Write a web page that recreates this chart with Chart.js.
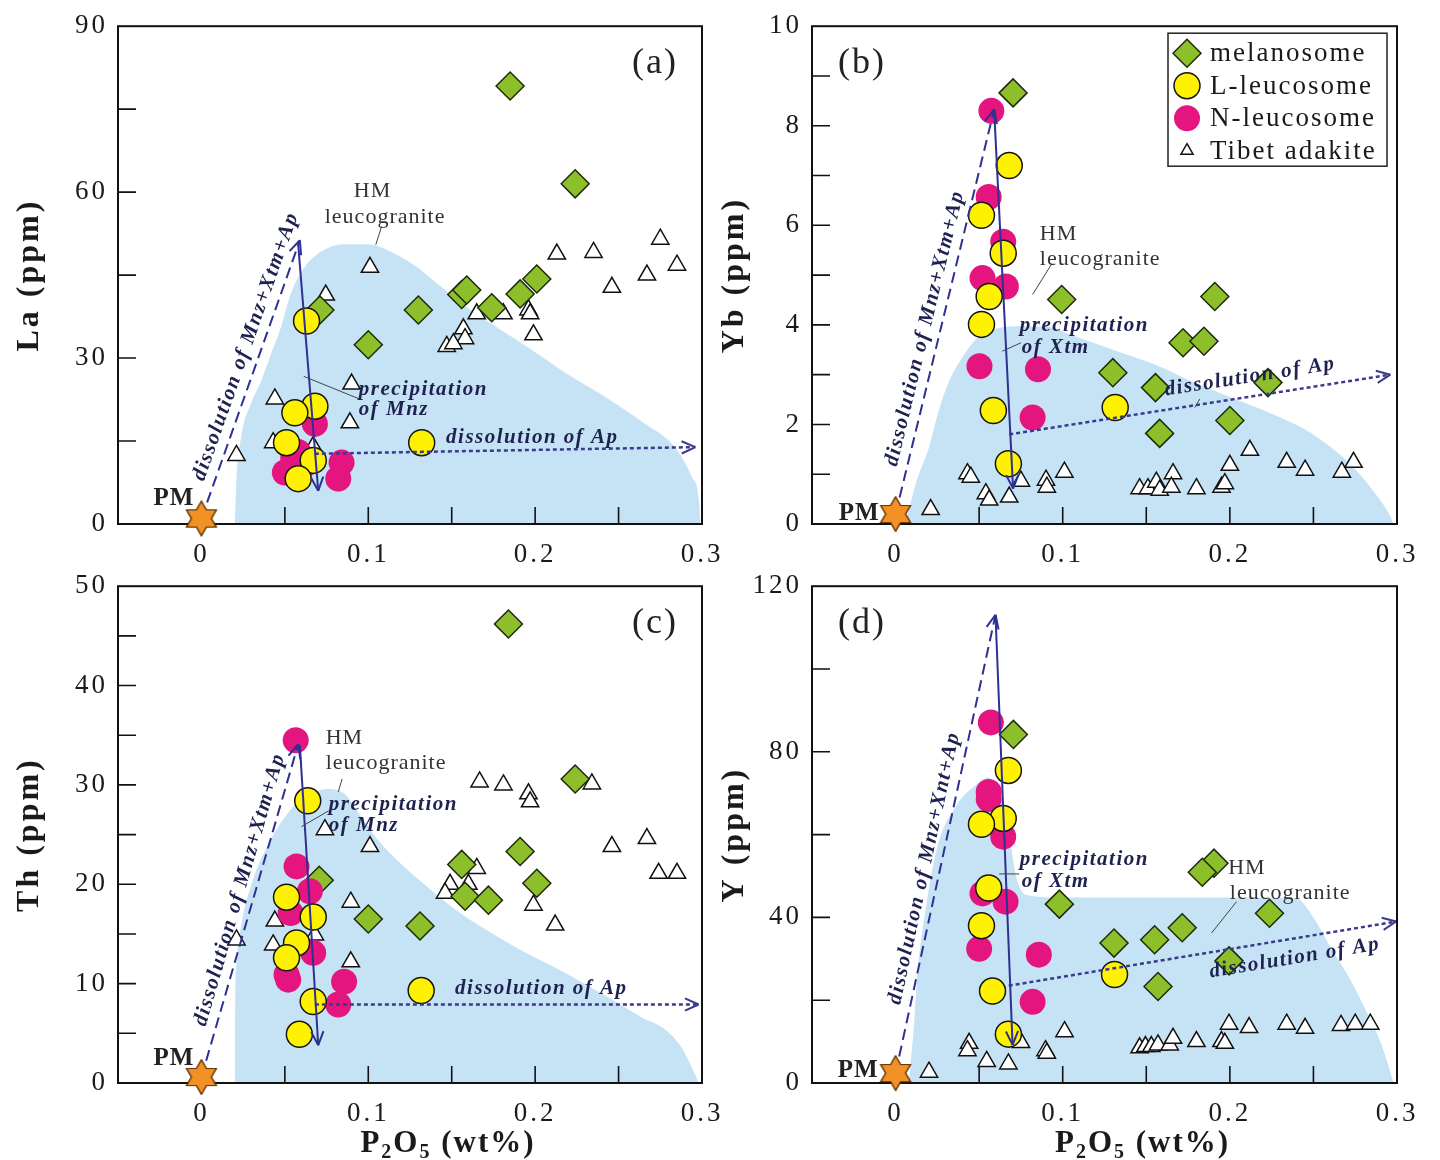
<!DOCTYPE html>
<html>
<head>
<meta charset="utf-8">
<script src="https://cdn.jsdelivr.net/npm/chart.js@4.4.1/dist/chart.umd.min.js"></script>
<style>
  html, body { margin: 0; padding: 0; background: #fff; }
  body { width: 1440px; height: 1160px; position: relative; overflow: hidden; }
  canvas { position: absolute; }
</style>
</head>
<body>
<canvas id="chartA" width="740" height="580" style="left:0;top:0"></canvas>
<canvas id="chartB" width="740" height="580" style="left:700px;top:0"></canvas>
<canvas id="chartC" width="740" height="600" style="left:0;top:560px"></canvas>
<canvas id="chartD" width="740" height="600" style="left:700px;top:560px"></canvas>
<script>
// ---- La vs P2O5 ----
const laMelanosome = [[0.185,79.2],[0.224,61.5],[0.201,44.3],[0.191,41.6],[0.174,39.1],[0.156,41.5],[0.159,42.3],[0.130,38.7],[0.100,32.4],[0.071,38.7]];
const laLLeucosome = [[0.063,36.7],[0.068,21.3],[0.056,20.1],[0.051,14.7],[0.067,11.5],[0.058,8.2],[0.132,14.7]];
const laNLeucosome = [[0.068,18.1],[0.058,13.0],[0.062,10.8],[0.055,12.0],[0.050,9.3],[0.084,11.1],[0.082,8.2]];
const laAdakite = [[0.101,46.4],[0.213,48.8],[0.235,49.1],[0.275,51.5],[0.267,45.0],[0.285,46.8],[0.246,42.8],[0.0745,41.4],
  [0.165,38.0],[0.181,38.0],[0.196,38.7],[0.197,38.0],[0.199,34.2],[0.157,35.3],[0.158,33.5],[0.147,32.1],[0.151,32.6],
  [0.090,25.3],[0.089,18.3],[0.044,22.6],[0.021,12.4],[0.043,14.7],[0.067,14.0]];
const laField = [[0.020,0],[0.021,8],[0.024,16],[0.030,22],[0.036,26],[0.042,31],[0.047,35],[0.054,42],[0.062,46.5],
  [0.072,49.3],[0.085,50.6],[0.100,50.6],[0.115,49],[0.130,46.3],[0.140,43.8],[0.160,39],[0.180,35],[0.197,31.7],
  [0.220,27],[0.243,22.8],[0.265,18.3],[0.284,13.8],[0.294,8.5],[0.298,4.8],[0.299,0]];
const laPM = [[0, 1]];
const laDissolveAll = [[0, 1], [0.059, 51.3]];
const laPrecip = [[0.058, 50.5], [0.070, 6]];
const laDissolveAp = [[0.068, 12.7], [0.296, 13.9]];

// ---- Yb vs P2O5 ----
const ybMelanosome = [[0.0703,8.66],[0.0994,4.51],[0.191,4.57],[0.172,3.64],[0.1845,3.67],[0.130,3.04],[0.1555,2.74],[0.2228,2.84],[0.200,2.08],[0.158,1.82]];
const ybLLeucosome = [[0.068,7.20],[0.0514,6.20],[0.0644,5.44],[0.056,4.57],[0.0514,4.01],[0.0585,2.28],[0.1314,2.34],[0.0675,1.21]];
const ybNLeucosome = [[0.0573,8.30],[0.0557,6.57],[0.0644,5.67],[0.052,4.94],[0.066,4.77],[0.0502,3.17],[0.0852,3.11],[0.082,2.14]];
const ybAdakite = [[0.021,0.29],[0.043,1.01],[0.045,0.94],[0.054,0.61],[0.056,0.48],[0.068,0.54],[0.075,0.86],[0.090,0.88],
  [0.0905,0.74],[0.101,1.04],[0.146,0.71],[0.151,0.71],[0.156,0.84],[0.158,0.68],[0.166,1.01],[0.165,0.74],[0.180,0.71],
  [0.195,0.74],[0.197,0.81],[0.200,1.18],[0.212,1.48],[0.234,1.24],[0.245,1.08],[0.267,1.04],[0.274,1.24]];
const ybField = [[0.006,0],[0.012,0.8],[0.020,1.54],[0.026,2.3],[0.032,2.87],[0.040,3.35],[0.049,3.74],[0.060,3.92],
  [0.075,3.97],[0.090,3.96],[0.105,3.8],[0.130,3.5],[0.1555,3.2],[0.175,2.9],[0.191,2.67],[0.210,2.42],[0.226,2.2],
  [0.245,1.9],[0.262,1.5],[0.275,1.1],[0.285,0.7],[0.295,0.22],[0.298,0]];
const ybPM = [[0, 0.2]];
const ybDissolveAll = [[0, 0.2], [0.059, 8.33]];
const ybPrecip = [[0.059, 8.3], [0.0703, 0.71]];
const ybDissolveAp = [[0.068, 1.8], [0.296, 3.0]];

// ---- Th vs P2O5 ----
const thMelanosome = [[0.184,46.2],[0.224,30.6],[0.191,23.3],[0.156,22.0],[0.201,20.1],[0.158,18.8],[0.172,18.4],[0.0706,20.4],[0.100,16.5],[0.131,15.8]];
const thLLeucosome = [[0.0637,28.4],[0.051,18.7],[0.067,16.7],[0.057,14.1],[0.051,12.6],[0.067,8.2],[0.0587,4.9],[0.1317,9.3]];
const thNLeucosome = [[0.0565,34.5],[0.057,21.8],[0.065,19.3],[0.0535,17.1],[0.067,13.1],[0.051,10.9],[0.052,10.4],[0.0855,10.2],[0.082,7.9]];
const thAdakite = [[0.1667,30.3],[0.181,30.0],[0.196,29.1],[0.197,28.3],[0.234,30.1],[0.267,24.6],[0.246,23.8],[0.074,25.5],
  [0.101,23.8],[0.274,21.1],[0.285,21.1],[0.165,21.6],[0.149,20.0],[0.146,19.1],[0.160,20.0],[0.199,17.9],[0.212,15.9],
  [0.0895,18.2],[0.044,16.3],[0.021,14.4],[0.043,13.9],[0.068,14.9],[0.0895,12.2]];
const thField = [[0.020,0],[0.0201,6],[0.021,12],[0.024,16],[0.030,20],[0.037,23],[0.045,25.5],[0.055,27.8],[0.065,29],
  [0.075,29.6],[0.085,29.2],[0.095,27],[0.105,24.6],[0.120,22],[0.135,19.8],[0.151,17.6],[0.170,15.5],[0.190,13.5],
  [0.220,10.9],[0.245,8.5],[0.265,6.5],[0.277,5.5],[0.288,3.5],[0.296,0.8],[0.298,0]];
const thPM = [[0, 0.6]];
const thDissolveAll = [[0, 0.6], [0.058, 34.1]];
const thPrecip = [[0.059, 34], [0.070, 3.8]];
const thDissolveAp = [[0.068, 7.9], [0.298, 7.9]];

// ---- Y vs P2O5 ----
const yMelanosome = [[0.0705,84.2],[0.1905,53.1],[0.1835,50.9],[0.098,43.2],[0.2237,41.0],[0.1715,37.5],[0.155,34.6],[0.1307,33.8],[0.1995,29.5],[0.157,23.3]];
const yLLeucosome = [[0.0675,75.5],[0.0644,63.9],[0.0514,62.5],[0.0557,47.1],[0.0514,38.0],[0.058,22.2],[0.131,26.2],[0.0675,11.8]];
const yNLeucosome = [[0.057,87.1],[0.0557,70.3],[0.0557,68.6],[0.0644,59.5],[0.052,45.8],[0.0658,43.8],[0.050,32.4],[0.0857,31.0],[0.082,19.6]];
const yAdakite = [[0.020,2.6],[0.044,9.6],[0.043,7.8],[0.0545,5.2],[0.0675,4.6],[0.075,9.8],[0.0897,7.8],[0.0905,7.2],
  [0.1011,12.4],[0.146,8.5],[0.1495,8.8],[0.153,8.8],[0.157,9.2],[0.164,9.2],[0.166,10.8],[0.180,10.0],[0.195,10.0],
  [0.197,9.6],[0.1995,14.2],[0.2115,13.4],[0.234,14.2],[0.245,13.2],[0.2665,13.9],[0.275,14.2],[0.284,14.2]];
const yField = [[0.008,0],[0.011,14],[0.013,26],[0.018,42],[0.025,57],[0.037,67.4],[0.048,72],[0.055,73.8],[0.062,70],
  [0.068,60],[0.072,50],[0.078,45.5],[0.100,44.8],[0.150,44.8],[0.200,44.8],[0.240,44.5],[0.250,40],[0.260,33],
  [0.272,25],[0.282,17],[0.290,10],[0.295,4],[0.298,0]];
const yPM = [[0, 2.4]];
const yDissolveAll = [[0, 2.4], [0.0598, 113.1]];
const yPrecip = [[0.0598, 113], [0.070, 9.2]];
const yDissolveAp = [[0.0677, 23.5], [0.2995, 39.0]];

// axis ticks
const xTickStep = 0.05;
const laTicks = { max: 90, step: 15, every: 30 };
const ybTicks = { max: 10, step: 1, every: 2 };
const thTicks = { max: 50, step: 5, every: 10 };
const yTicks = { max: 120, step: 20, every: 40 };

const SERIF = '"Liberation Serif", "Times New Roman", serif';
const NAVY = '#2e3192';
const NOTE = '#1f2250';
const FIELD = '#c6e3f5';

function makeStar(r) {
  const c = document.createElement('canvas');
  const s = Math.ceil(2 * r + 4);
  c.width = c.height = s;
  const g = c.getContext('2d');
  g.translate(s / 2, s / 2);
  g.beginPath();
  for (let i = 0; i < 12; i++) {
    const rad = i % 2 === 0 ? r : r / Math.sqrt(3);
    const ang = -Math.PI / 2 + i * Math.PI / 6;
    g.lineTo(rad * Math.cos(ang), rad * Math.sin(ang));
  }
  g.closePath();
  g.fillStyle = '#f39224';
  g.fill();
  g.strokeStyle = '#6a3a0a';
  g.lineWidth = 1.2;
  g.stroke();
  return c;
}
const STAR = makeStar(17);

const pts = arr => arr.map(([x, y]) => ({ x, y }));

function buildDatasets(g) {
  return [
    { label: 'PM', data: pts(g.pm), pointStyle: STAR, pointRadius: 17, clip: false },
    { label: 'dissolution', data: pts(g.dissolveAll), showLine: true, borderColor: NAVY, borderWidth: 2,
      borderDash: [11, 6], pointRadius: 0, arrow: true },
    { label: 'precipitation', data: pts(g.precip), showLine: true, borderColor: NAVY, borderWidth: 2,
      pointRadius: 0, arrow: true },
    { label: 'dissolution of Ap', data: pts(g.dissolveAp), showLine: true, borderColor: '#3b3a8e', borderWidth: 2.5,
      borderDash: [4, 3], pointRadius: 0, arrow: true },
    { label: 'L-leucosome', data: pts(g.lLeuco), pointStyle: 'circle', pointRadius: 13,
      backgroundColor: '#fff200', borderColor: '#151515', borderWidth: 1.5, legendRow: 1 },
    { label: 'N-leucosome', data: pts(g.nLeuco), pointStyle: 'circle', pointRadius: 13,
      backgroundColor: '#e5157f', borderColor: '#e5157f', borderWidth: 0, legendRow: 2 },
    { label: 'melanosome', data: pts(g.melanosome), pointStyle: 'rectRot', pointRadius: 14,
      backgroundColor: '#8dbf2a', borderColor: '#1e2a0c', borderWidth: 1.5, legendRow: 0 },
    { label: 'Tibet adakite', data: pts(g.adakite), pointStyle: 'triangle', pointRadius: 10,
      backgroundColor: '#ffffff', borderColor: '#111', borderWidth: 1.5, legendRow: 3, legendRadius: 7 },
    { label: 'HM leucogranite', data: pts(g.field), showLine: true, borderWidth: 0, pointRadius: 0,
      backgroundColor: FIELD, fill: 'origin', cubicInterpolationMode: 'monotone' }
  ];
}

const panelCfg = {
  chartA: {
    tag: '(a)', tagRight: true,
    texts: [
      { x: 0.0913, y: 59.1, text: 'HM', font: '22px ' + SERIF, color: '#333' },
      { x: 0.0739, y: 54.5, text: 'leucogranite', font: '22px ' + SERIF, color: '#333' },
      { x: 0.0943, y: 23.3, text: 'precipitation', italic: true },
      { x: 0.0943, y: 19.7, text: 'of Mnz', italic: true },
      { x: 0.1466, y: 14.7, text: 'dissolution of Ap', italic: true }
    ],
    leaders: [ [[0.108, 53.8], [0.1045, 50.5]], [[0.0613, 26.7], [0.0947, 22.6]] ],
    slants: [ { line: laDissolveAll, t: 0.6, gap: 5, text: 'dissolution of Mnz+Xtm+Ap' } ],
    pm: { dx: -7, dy: -13 }
  },
  chartB: {
    tag: '(b)', tagRight: false, legend: true,
    texts: [
      { x: 0.0863, y: 5.71, text: 'HM', font: '22px ' + SERIF, color: '#333' },
      { x: 0.0863, y: 5.21, text: 'leucogranite', font: '22px ' + SERIF, color: '#333' },
      { x: 0.0743, y: 3.87, text: 'precipitation', italic: true },
      { x: 0.0755, y: 3.43, text: 'of Xtm', italic: true }
    ],
    leaders: [ [[0.0935, 5.23], [0.082, 4.61]], [[0.0638, 3.47], [0.075, 3.64]], [[0.179, 2.34], [0.182, 2.51]] ],
    slants: [
      { line: ybDissolveAll, t: 0.45, gap: 5, text: 'dissolution of Mnz+Xtm+Ap' },
      { line: ybDissolveAp, t: 0.64, gap: 9, text: 'dissolution of Ap' }
    ],
    pm: { dx: -16, dy: 6 }
  },
  chartC: {
    tag: '(c)', tagRight: true, xTitle: true,
    texts: [
      { x: 0.0745, y: 34.1, text: 'HM', font: '22px ' + SERIF, color: '#333' },
      { x: 0.0745, y: 31.6, text: 'leucogranite', font: '22px ' + SERIF, color: '#333' },
      { x: 0.0763, y: 27.5, text: 'precipitation', italic: true },
      { x: 0.0763, y: 25.4, text: 'of Mnz', italic: true },
      { x: 0.152, y: 9.0, text: 'dissolution of Ap', italic: true }
    ],
    leaders: [ [[0.0843, 30.6], [0.082, 29.3]], [[0.060, 25.8], [0.0763, 27.4]] ],
    slants: [ { line: thDissolveAll, t: 0.55, gap: 5, text: 'dissolution of Mnz+Xtm+Ap' } ],
    pm: { dx: -7, dy: -12 }
  },
  chartD: {
    tag: '(d)', tagRight: false, xTitle: true,
    texts: [
      { x: 0.0743, y: 52.6, text: 'precipitation', italic: true },
      { x: 0.0755, y: 47.3, text: 'of Xtm', italic: true },
      { x: 0.199, y: 50.4, text: 'HM', font: '22px ' + SERIF, color: '#333' },
      { x: 0.200, y: 44.4, text: 'leucogranite', font: '22px ' + SERIF, color: '#333' }
    ],
    leaders: [ [[0.062, 50.5], [0.074, 50.5]], [[0.189, 36.2], [0.204, 43.8]] ],
    slants: [
      { line: yDissolveAll, t: 0.44, gap: 5, text: 'dissolution of Mnz+Xnt+Ap' },
      { line: yDissolveAp, t: 0.73, gap: 9, text: 'dissolution of Ap', below: true }
    ],
    pm: { dx: -17, dy: 4 }
  }
};

function drawXTitle(ctx, cx, baseline) {
  const parts = [['P', 0], ['2', 1], ['O', 0], ['5', 1], [' (wt%)', 0]];
  const big = 'bold 31px ' + SERIF, small = 'bold 20px ' + SERIF;
  ctx.letterSpacing = '2px';
  let w = 0;
  parts.forEach(([s, sub]) => { ctx.font = sub ? small : big; w += ctx.measureText(s).width; });
  let px = cx - w / 2;
  ctx.textAlign = 'left';
  ctx.textBaseline = 'alphabetic';
  ctx.fillStyle = '#1a1a1a';
  parts.forEach(([s, sub]) => {
    ctx.font = sub ? small : big;
    ctx.fillText(s, px, baseline + (sub ? 6 : 0));
    px += ctx.measureText(s).width;
  });
}

const decorPlugin = {
  id: 'panelDecor',
  beforeDraw(chart) {
    chart.ctx.letterSpacing = '3px';
  },
  afterDatasetsDraw(chart) {
    const cfg = panelCfg[chart.canvas.id];
    const { ctx, chartArea: a, scales: { x, y } } = chart;
    const px = v => x.getPixelForValue(v);
    const py = v => y.getPixelForValue(v);

    // arrow heads on the trend lines
    chart.data.datasets.forEach((ds, i) => {
      if (!ds.arrow) return;
      const els = chart.getDatasetMeta(i).data;
      const p = els[els.length - 1], q = els[els.length - 2];
      const ang = Math.atan2(p.y - q.y, p.x - q.x);
      ctx.save();
      ctx.strokeStyle = ds.borderColor;
      ctx.lineWidth = 2;
      ctx.setLineDash([]);
      ctx.beginPath();
      [-1, 1].forEach(s => {
        ctx.moveTo(p.x, p.y);
        ctx.lineTo(p.x - 15 * Math.cos(ang + s * 0.42), p.y - 15 * Math.sin(ang + s * 0.42));
      });
      ctx.stroke();
      ctx.restore();
    });

    ctx.save();
    // leader lines
    ctx.strokeStyle = '#444';
    ctx.lineWidth = 1;
    cfg.leaders.forEach(([p0, p1]) => {
      ctx.beginPath();
      ctx.moveTo(px(p0[0]), py(p0[1]));
      ctx.lineTo(px(p1[0]), py(p1[1]));
      ctx.stroke();
    });

    // notes
    ctx.textAlign = 'left';
    ctx.textBaseline = 'alphabetic';
    cfg.texts.forEach(t => {
      ctx.font = t.italic ? 'italic bold 21px ' + SERIF : t.font;
      ctx.letterSpacing = t.italic ? '1.5px' : '1px';
      ctx.fillStyle = t.italic ? NOTE : t.color;
      ctx.fillText(t.text, px(t.x), py(t.y));
    });

    // labels running along the arrows
    cfg.slants.forEach(s => {
      const x0 = px(s.line[0][0]), y0 = py(s.line[0][1]);
      const x1 = px(s.line[1][0]), y1 = py(s.line[1][1]);
      const ang = Math.atan2(y1 - y0, x1 - x0);
      ctx.save();
      ctx.translate(x0 + (x1 - x0) * s.t, y0 + (y1 - y0) * s.t);
      ctx.rotate(ang);
      ctx.font = 'italic bold 21px ' + SERIF;
      ctx.letterSpacing = '1.5px';
      ctx.fillStyle = NOTE;
      ctx.textAlign = 'center';
      ctx.textBaseline = s.below ? 'top' : 'bottom';
      ctx.fillText(s.text, 0, s.below ? s.gap : -s.gap);
      ctx.restore();
    });

    // PM label next to the star
    const pmEl = chart.getDatasetMeta(0).data[0];
    ctx.font = 'bold 25px ' + SERIF;
    ctx.letterSpacing = '1px';
    ctx.fillStyle = '#222';
    ctx.textAlign = 'right';
    ctx.fillText('PM', pmEl.x + cfg.pm.dx, pmEl.y + cfg.pm.dy);

    // panel tag
    ctx.font = '36px ' + SERIF;
    ctx.letterSpacing = '2px';
    ctx.fillStyle = '#222';
    ctx.textAlign = cfg.tagRight ? 'right' : 'left';
    ctx.fillText(cfg.tag, cfg.tagRight ? a.right - 24 : a.left + 26, a.top + 47);

    // inward tick marks and frame
    ctx.strokeStyle = '#111';
    ctx.lineWidth = 1.6;
    ctx.beginPath();
    x.ticks.forEach(t => {
      if (t.value <= x.min + 1e-9 || t.value >= x.max - 1e-9) return;
      const tx = px(t.value);
      ctx.moveTo(tx, a.bottom);
      ctx.lineTo(tx, a.bottom - 17);
    });
    y.ticks.forEach(t => {
      if (t.value <= y.min + 1e-9 || t.value >= y.max - 1e-9) return;
      const ty = py(t.value);
      ctx.moveTo(a.left, ty);
      ctx.lineTo(a.left + 18, ty);
    });
    ctx.stroke();
    ctx.lineWidth = 2;
    ctx.strokeRect(a.left, a.top, a.right - a.left, a.bottom - a.top);

    // star sits on top of the frame
    ctx.drawImage(STAR, pmEl.x - STAR.width / 2, pmEl.y - STAR.height / 2);

    // legend box
    if (cfg.legend) {
      const bx = a.right - 229, by = a.top + 7, bw = 219, bh = 133;
      ctx.fillStyle = '#fff';
      ctx.fillRect(bx, by, bw, bh);
      ctx.strokeStyle = '#222';
      ctx.lineWidth = 1.5;
      ctx.strokeRect(bx, by, bw, bh);
      chart.data.datasets.filter(ds => ds.legendRow !== undefined).forEach(ds => {
        const cy = by + 20 + ds.legendRow * 32.5;
        ctx.fillStyle = ds.backgroundColor;
        ctx.strokeStyle = ds.borderColor;
        ctx.lineWidth = ds.borderWidth;
        Chart.helpers.drawPoint(ctx, {
          pointStyle: ds.pointStyle, radius: ds.legendRadius || ds.pointRadius,
          borderWidth: ds.borderWidth, rotation: 0
        }, bx + 19, cy);
        ctx.font = '27px ' + SERIF;
        ctx.letterSpacing = '2px';
        ctx.fillStyle = '#1a1a1a';
        ctx.textAlign = 'left';
        ctx.textBaseline = 'middle';
        ctx.fillText(ds.label, bx + 42, cy + 1);
      });
    }

    if (cfg.xTitle) {
      drawXTitle(ctx, a.left + 0.565 * (a.right - a.left), a.bottom + 69);
    }
    ctx.restore();
  }
};

function makeChart(id, groups, yt, yTitle, box) {
  const canvas = document.getElementById(id);
  return new Chart(canvas, {
    type: 'scatter',
    data: { datasets: buildDatasets(groups) },
    plugins: [decorPlugin],
    options: {
      responsive: false,
      animation: false,
      layout: { padding: { top: box.top, right: box.right, left: 0, bottom: 0 } },
      plugins: { legend: { display: false }, tooltip: { enabled: false } },
      scales: {
        x: {
          type: 'linear', min: -0.05, max: 0.3,
          grid: { display: false, drawTicks: false },
          border: { display: false },
          ticks: {
            stepSize: xTickStep, autoSkip: false, maxRotation: 0, padding: 15,
            color: '#1a1a1a', font: { family: SERIF, size: 27 },
            callback: v => {
              const k = Math.round(v * 100);
              if (k < 0 || k % 10 !== 0) return '';
              return k === 0 ? '0' : (k / 100).toFixed(1);
            }
          },
          afterFit: s => { s.height = box.xh; }
        },
        y: {
          type: 'linear', min: 0, max: yt.max,
          grid: { display: false, drawTicks: false },
          border: { display: false },
          ticks: {
            stepSize: yt.step, autoSkip: false, padding: 10,
            color: '#1a1a1a', font: { family: SERIF, size: 27 },
            callback: v => (Math.round(v) % yt.every === 0 ? String(Math.round(v)) : '')
          },
          title: {
            display: true, text: yTitle, color: '#1a1a1a',
            font: { family: SERIF, size: 32, weight: 'bold' },
            padding: { top: box.titlePad, bottom: 0 }
          },
          afterFit: s => { s.width = box.yw; }
        }
      }
    }
  });
}

makeChart('chartA', {
  pm: laPM, dissolveAll: laDissolveAll, precip: laPrecip, dissolveAp: laDissolveAp,
  lLeuco: laLLeucosome, nLeuco: laNLeucosome, melanosome: laMelanosome, adakite: laAdakite, field: laField
}, laTicks, 'La (ppm)', { top: 22, right: 38, xh: 56, yw: 118, titlePad: 11 });

makeChart('chartB', {
  pm: ybPM, dissolveAll: ybDissolveAll, precip: ybPrecip, dissolveAp: ybDissolveAp,
  lLeuco: ybLLeucosome, nLeuco: ybNLeucosome, melanosome: ybMelanosome, adakite: ybAdakite, field: ybField
}, ybTicks, 'Yb (ppm)', { top: 22, right: 43, xh: 56, yw: 112, titlePad: 16 });

makeChart('chartC', {
  pm: thPM, dissolveAll: thDissolveAll, precip: thPrecip, dissolveAp: thDissolveAp,
  lLeuco: thLLeucosome, nLeuco: thNLeucosome, melanosome: thMelanosome, adakite: thAdakite, field: thField
}, thTicks, 'Th (ppm)', { top: 23, right: 38, xh: 77, yw: 118, titlePad: 11 });

makeChart('chartD', {
  pm: yPM, dissolveAll: yDissolveAll, precip: yPrecip, dissolveAp: yDissolveAp,
  lLeuco: yLLeucosome, nLeuco: yNLeucosome, melanosome: yMelanosome, adakite: yAdakite, field: yField
}, yTicks, 'Y (ppm)', { top: 23, right: 43, xh: 77, yw: 112, titlePad: 16 });
</script>
</body>
</html>
